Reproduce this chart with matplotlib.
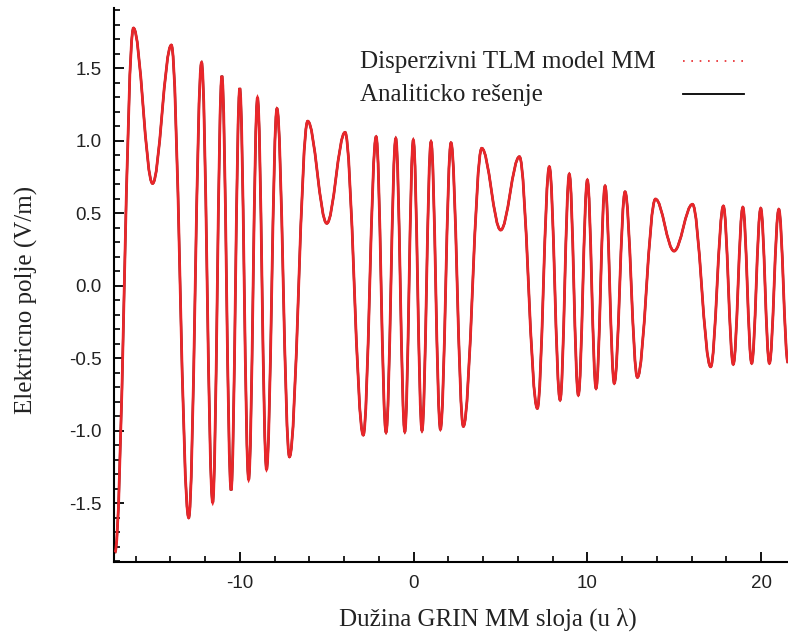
import matplotlib
matplotlib.use("Agg")
import matplotlib.pyplot as plt
from matplotlib.path import Path
from matplotlib.patches import PathPatch
from matplotlib.lines import Line2D
from matplotlib.ticker import MultipleLocator, FormatStrFormatter

plt.rcParams["axes.unicode_minus"] = False

# extrema of the field (x in lambda, E in V/m)
x_ext = [-17.2, -16.13, -15.03, -13.95, -12.95, -12.21, -11.57, -11.04, -10.51, -10.01,
         -9.5, -8.99, -8.47, -7.87, -7.15, -6.1, -5.0, -3.95, -2.9, -2.16,
         -1.59, -1.03, -0.51, -0.02, 0.48, 1.0, 1.54, 2.15, 2.86, 3.92,
         5.01, 6.09, 7.12, 7.81, 8.43, 8.96, 9.48, 10.0, 10.5, 11.02,
         11.55, 12.17, 12.88, 13.92, 14.99, 16.05, 17.1, 17.83, 18.4, 18.95,
         19.46, 19.98, 20.48, 21.02, 21.55]
e_tlm = [-1.84, 1.777, 0.705, 1.66, -1.60, 1.54, -1.495, 1.447, -1.41, 1.362,
         -1.337, 1.297, -1.267, 1.222, -1.18, 1.135, 0.43, 1.058, -1.03, 1.028,
         -1.011, 1.016, -1.007, 1.005, -1.0, 0.993, -0.99, 0.986, -0.97, 0.948,
         0.384, 0.89, -0.846, 0.821, -0.788, 0.770, -0.754, 0.729, -0.708, 0.688,
         -0.673, 0.648, -0.632, 0.598, 0.239, 0.562, -0.559, 0.55, -0.542, 0.541,
         -0.535, 0.534, -0.535, 0.527, -0.53]
# analytic solution is indistinguishable from the TLM result at this scale
e_analytic = list(e_tlm)

labels = ["Disperzivni TLM model MM", "Analiticko rešenje"]
red = "#e8262a"


def wave_path(xs, ys):
    # smooth path through the extrema, flat tangents at each one
    verts = [(xs[0], ys[0])]
    codes = [Path.MOVETO]
    for i in range(len(xs) - 1):
        dx = xs[i + 1] - xs[i]
        verts += [(xs[i] + 0.364 * dx, ys[i]),
                  (xs[i + 1] - 0.364 * dx, ys[i + 1]),
                  (xs[i + 1], ys[i + 1])]
        codes += [Path.CURVE4] * 3
    return Path(verts, codes)


W, H = 788, 637
fig = plt.figure(figsize=(W / 100, H / 100), dpi=100)
ax = fig.add_axes([0.1447, 0.1177, 0.8553, 0.8697])

ax.add_patch(PathPatch(wave_path(x_ext, e_analytic), fill=False,
                       edgecolor="black", lw=1.6, zorder=2))
ax.add_patch(PathPatch(wave_path(x_ext, e_tlm), fill=False,
                       edgecolor=red, lw=2.0, zorder=3))

ax.set_xlim(-17.25, 21.55)
ax.set_ylim(-1.905, 1.915)

for s in ["top", "right"]:
    ax.spines[s].set_visible(False)
for s in ["left", "bottom"]:
    ax.spines[s].set_linewidth(1.5)

ax.xaxis.set_major_locator(MultipleLocator(10))
ax.xaxis.set_minor_locator(MultipleLocator(2))
ax.yaxis.set_major_locator(MultipleLocator(0.5))
ax.yaxis.set_minor_locator(MultipleLocator(0.1))
ax.yaxis.set_major_formatter(FormatStrFormatter("%.1f"))
ax.tick_params(which="major", direction="in", length=7, width=1.3, pad=9)
ax.tick_params(which="minor", direction="in", length=4.5, width=1.2)
for lab in ax.get_xticklabels() + ax.get_yticklabels():
    lab.set_fontfamily("Liberation Sans")
    lab.set_fontsize(13.5)
    lab.set_color("#222222")

ax.set_xlabel("Dužina GRIN MM sloja (u λ)", family="Liberation Serif",
              fontsize=18, color="#222222")
ax.set_ylabel("Elektricno polje (V/m)", family="Liberation Serif",
              fontsize=18, color="#222222")
ax.xaxis.set_label_coords(0.555, -0.082)
ax.yaxis.set_label_coords(-0.113, 0.473)

# legend: text on the left, line sample on the right
styles = [dict(color=red, lw=1.2, linestyle=(0, (1, 4))),
          dict(color="black", lw=1.3)]
text_y = [68, 101]
line_y = [61, 94]
for lab, ty, ly, st in zip(labels, text_y, line_y, styles):
    fig.text(360 / W, 1 - ty / H, lab, family="Liberation Serif", fontsize=18,
             ha="left", va="baseline", color="#222222")
    fig.add_artist(Line2D([683 / W, 744 / W], [1 - ly / H, 1 - ly / H],
                          transform=fig.transFigure, **st))

fig.savefig("out.png", dpi=100)
